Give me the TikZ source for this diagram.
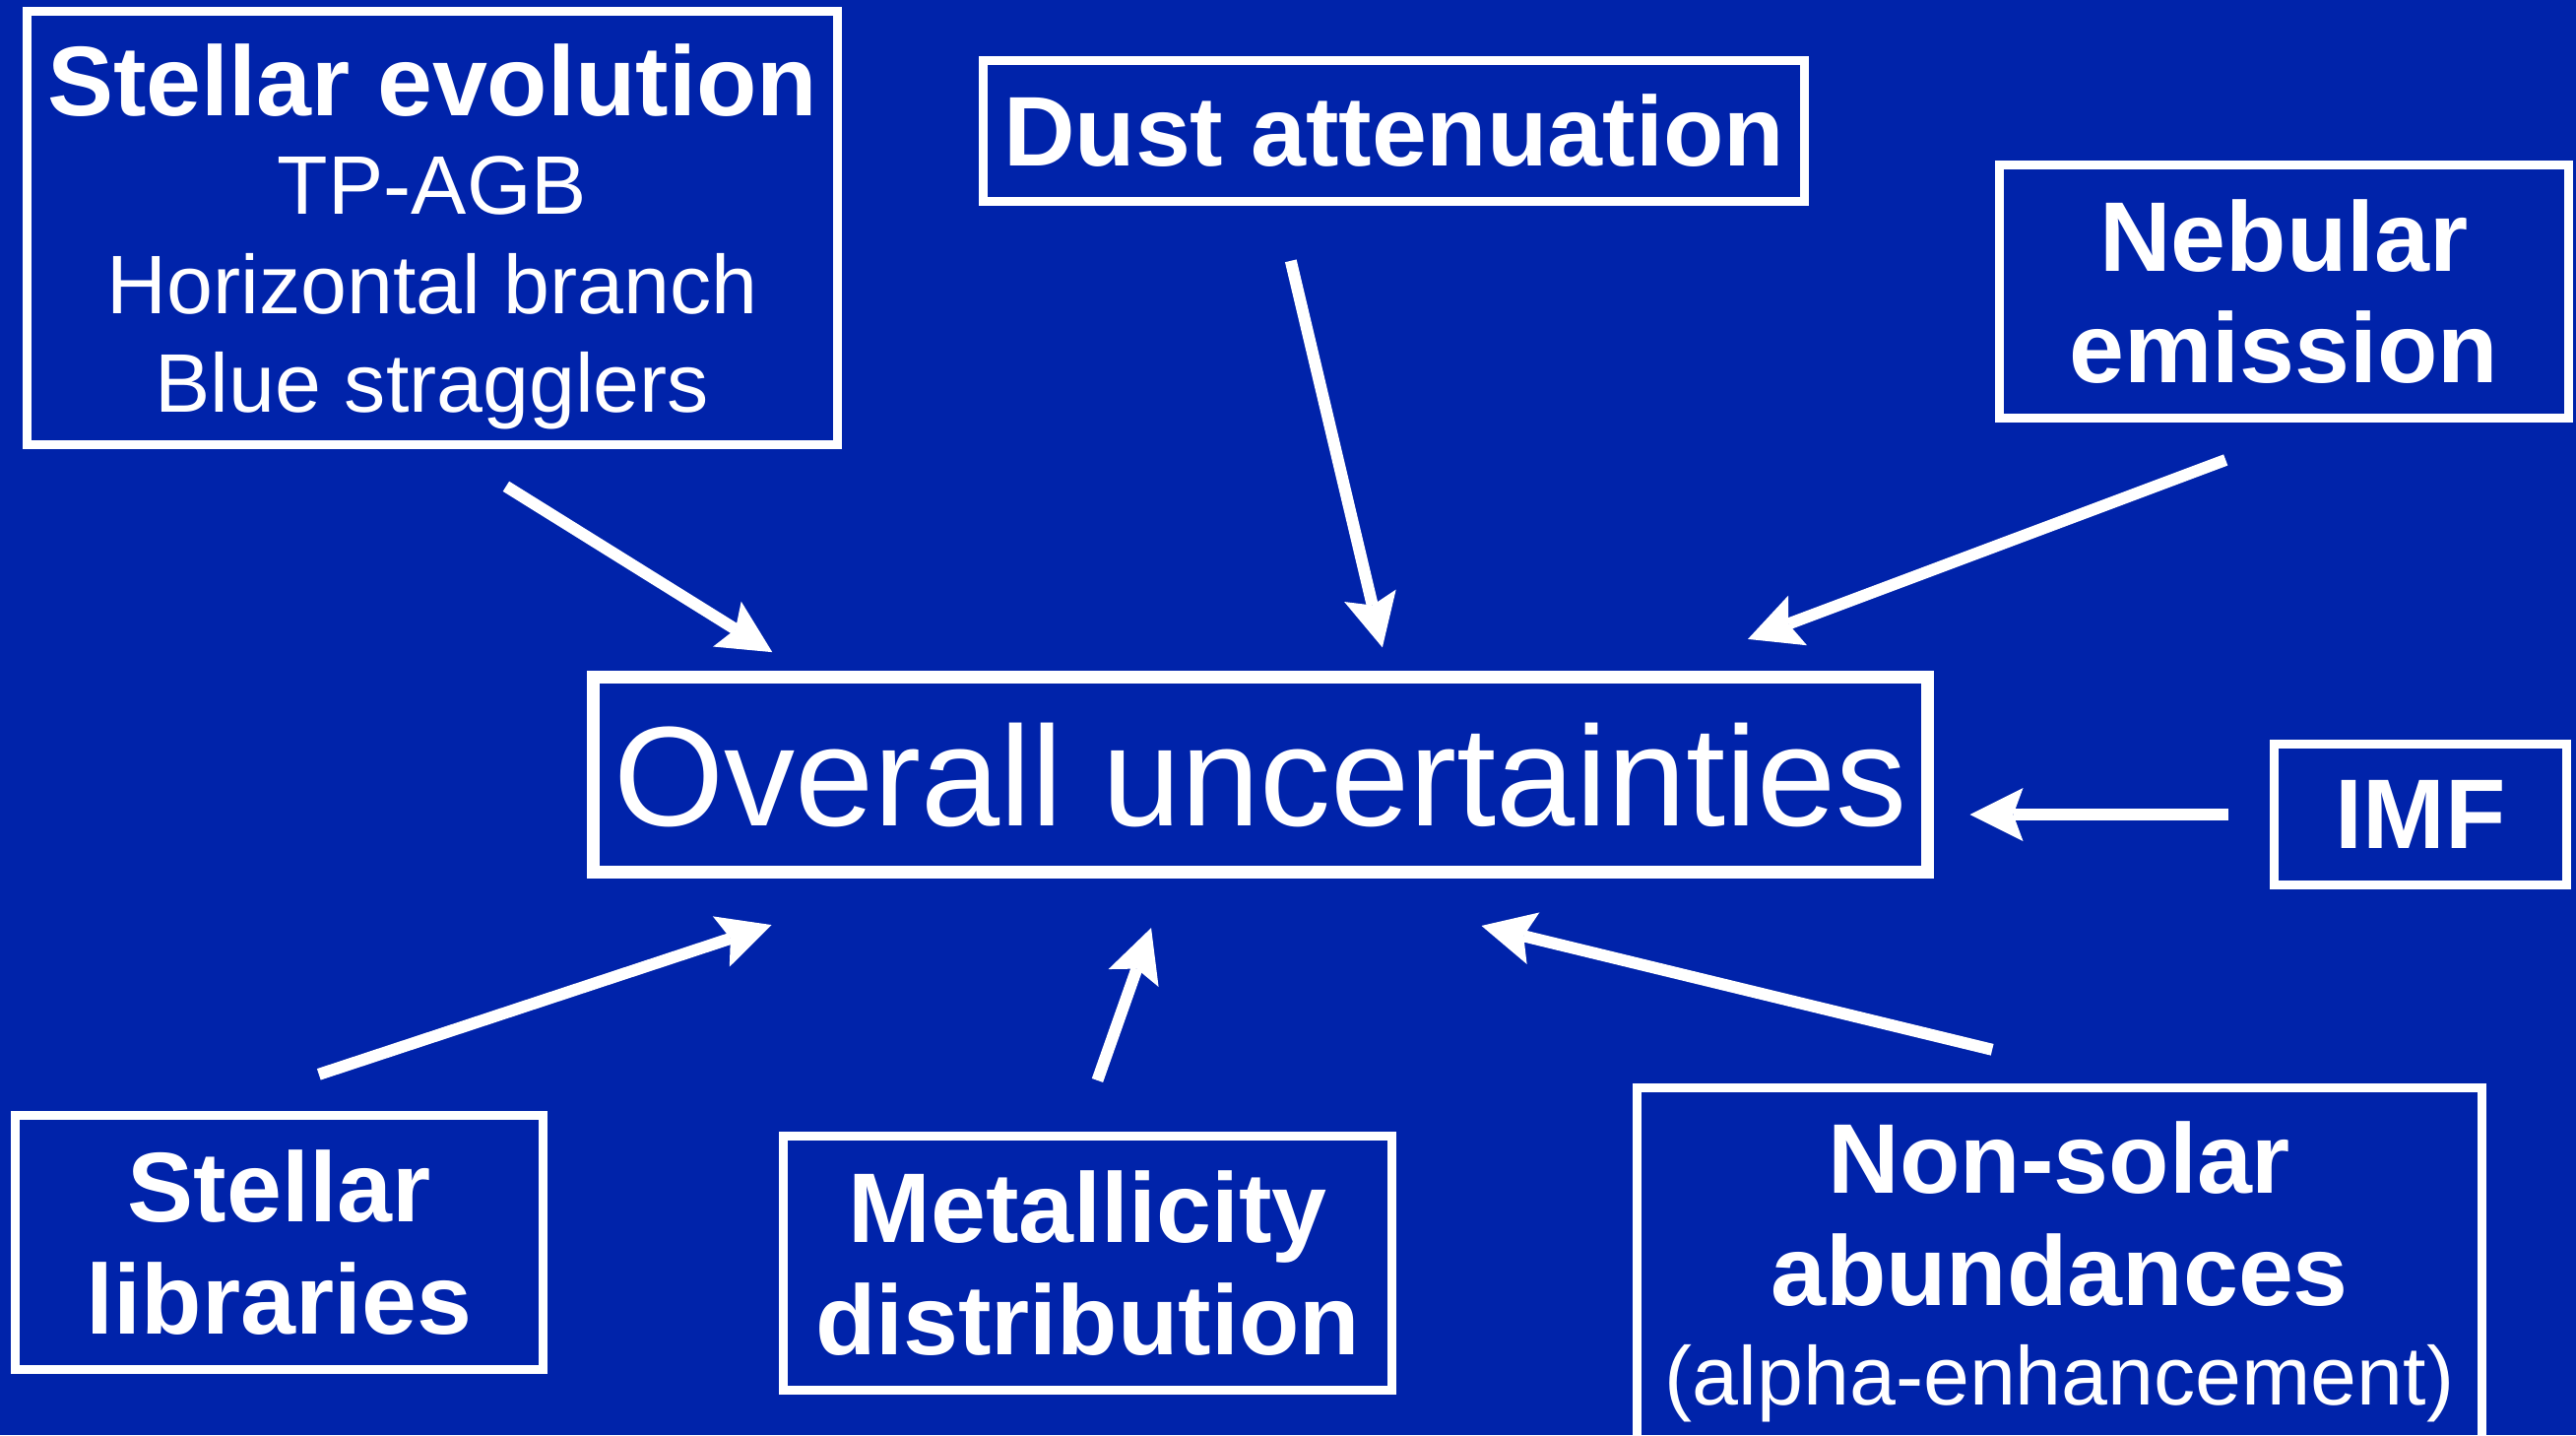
\documentclass[tikz,border=0pt]{standalone}
\usepackage{fontspec}
\setmainfont{Liberation Sans}
\usepackage{tikz}
\usetikzlibrary{calc, arrows.meta}
\definecolor{slideblue}{RGB}{0,35,170}
\newcommand\boxhead{\fontsize{28.6pt}{32.4pt}\selectfont\bfseries}
\newcommand\boxplain{\fontsize{24pt}{28.5pt}\selectfont\mdseries}
\tikzset{
  topic/.style={draw=white, line width=0.09cm, text=white, align=center,
    inner sep=0pt, outer sep=0pt, font=\boxhead},
  pointer/.style={draw=white, line width=0.12cm,
    -{Stealth[length=5.4mm, width=5.4mm, inset=1mm, line width=0pt]}},
}

\begin{document}
\begin{tikzpicture}[
  hub/.style={topic, line width=0.13cm, font=\fontsize{41pt}{47pt}\selectfont}]
\useasboundingbox (0,0) rectangle (26.16,-14.57);
\fill[slideblue] (0,0) rectangle (26.16,-14.57);
% boxes
\node[hub, minimum width=13.55cm, minimum height=1.98cm] (overall) at (12.80,-7.865)
  {Overall uncertainties};
\node[topic, minimum width=8.23cm, minimum height=4.40cm, text depth=0pt, font=\boxplain]
  (evolution) at (4.39,-2.315)
  {{\boxhead Stellar evolution}\\TP-AGB\\Horizontal branch\\Blue stragglers};
\node[topic, minimum width=8.34cm, minimum height=1.43cm] (dust) at (14.155,-1.33)
  {Dust attenuation};
\node[topic, minimum width=5.78cm, minimum height=2.57cm] (nebular) at (23.195,-2.96)
  {Nebular\\emission};
\node[topic, minimum width=2.97cm, minimum height=1.43cm] (imf) at (24.58,-8.27) {IMF};
\node[topic, minimum width=5.36cm, minimum height=2.58cm] (libraries) at (2.835,-12.615)
  {Stellar\\libraries};
\node[topic, minimum width=6.18cm, minimum height=2.58cm] (metallicity) at (11.045,-12.825)
  {Metallicity\\distribution};
\node[topic, minimum width=8.58cm, minimum height=3.74cm] (nonsolar) at (20.915,-12.914)
  {Non-solar\\abundances\\[-3.7pt]{\boxplain (alpha-enhancement)}};
% arrows into the central box
\draw[pointer, shorten <=0.80cm, shorten >=0.48cm]
  ([xshift=0.07cm]evolution.south) -- ([xshift=-4.55cm]overall.north);
\draw[pointer, shorten <=0.62cm, shorten >=0.31cm]
  ([xshift=-1.19cm]dust.south) -- ([xshift=1.31cm]overall.north);
\draw[pointer, shorten <=1.21cm, shorten >=1.10cm]
  ([xshift=0.54cm]nebular.south) -- ([xshift=3.92cm]overall.north);
\draw[pointer, shorten <=0.47cm, shorten >=0.43cm]
  (imf.west) -- (imf.west -| overall.east);
\draw[pointer, shorten <=1.33cm, shorten >=1.71cm]
  ([xshift=-0.86cm]libraries.north) -- ([xshift=-3.34cm]overall.south);
\draw[pointer, shorten <=0.60cm, shorten >=0.60cm]
  ([xshift=-0.10cm]metallicity.north) -- ([xshift=-0.91cm]overall.south);
\draw[pointer, shorten <=1.64cm, shorten >=2.31cm]
  ([xshift=0.91cm]nonsolar.north) -- (overall.south);
\end{tikzpicture}
\end{document}
